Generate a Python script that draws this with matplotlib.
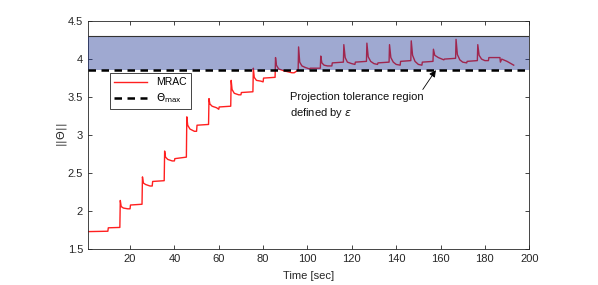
import numpy as np
import matplotlib.pyplot as plt

plt.rcParams['font.family'] = ['Liberation Sans', 'DejaVu Sans']

# MRAC parameter norm
t = [1, 10, 10.2, 15.4, 15.6, 16, 17, 19, 20, 20.2, 25.4, 25.6, 26, 27, 29, 30, 30.2,
     35.4, 35.6, 36, 37, 39, 40, 40.2, 45.4, 45.6, 46, 47, 49, 50, 50.2, 55.4, 55.6,
     56, 57, 59, 60, 60.2, 65.4, 65.6, 66, 67, 69, 70, 70.2, 75.4, 75.6, 76, 77, 79,
     80, 80.2, 85.4, 85.6, 86, 87, 89, 90, 90.2, 93, 94, 95.8, 96, 96.5, 97.5, 99,
     101, 101.2, 105.8, 106, 106.5, 107.5, 109, 111, 111.2, 116.2, 116.4, 117, 118,
     120, 121.4, 121.6, 126.6, 126.8, 127.4, 128.5, 130, 131.6, 131.8, 136.8, 137,
     137.6, 138.7, 140, 141.8, 142, 146.6, 146.8, 147.4, 148.5, 150, 151.6, 151.8,
     156.6, 156.8, 157.4, 159, 161.5, 161.7, 166.8, 167, 167.6, 168.7, 170, 171.8,
     172, 176.6, 176.8, 177.4, 178.5, 180, 181.6, 181.8, 186.8, 187, 187.6, 190, 193]
theta = [1.73, 1.735, 1.78, 1.785, 2.14, 2.06, 2.04, 2.03, 2.03, 2.08, 2.09, 2.45,
         2.37, 2.35, 2.33, 2.33, 2.39, 2.40, 2.79, 2.71, 2.68, 2.66, 2.66, 2.69, 2.71,
         3.24, 3.13, 3.08, 3.05, 3.05, 3.13, 3.14, 3.48, 3.41, 3.38, 3.36, 3.34, 3.37,
         3.38, 3.72, 3.60, 3.55, 3.53, 3.53, 3.56, 3.57, 3.88, 3.76, 3.72, 3.71, 3.70,
         3.75, 3.76, 4.02, 3.92, 3.87, 3.85, 3.84, 3.84, 3.82, 3.82, 3.855, 4.16, 3.96,
         3.91, 3.89, 3.87, 3.88, 3.88, 4.04, 3.95, 3.92, 3.91, 3.91, 3.95, 3.96, 4.19,
         4.02, 3.96, 3.94, 3.93, 3.96, 3.97, 4.21, 4.03, 3.97, 3.94, 3.93, 3.95, 3.96,
         4.19, 4.02, 3.96, 3.93, 3.92, 3.97, 3.98, 4.24, 4.05, 3.97, 3.93, 3.92, 3.96,
         3.97, 4.13, 4.05, 4.02, 3.99, 4.00, 4.01, 4.26, 4.06, 3.99, 3.96, 3.95, 3.97,
         3.98, 4.19, 4.05, 4.00, 3.98, 3.98, 4.02, 4.02, 3.96, 4.00, 3.97, 3.92]

theta_max = 3.85
band_top = 4.3
xlim = (1, 200)

fig = plt.figure(figsize=(5.98, 2.85), dpi=100)
ax = fig.add_axes([0.147, 0.126, 0.738, 0.8])

ax.plot(t, theta, color='#ff2020', lw=1.0, label='MRAC', zorder=2)
ax.fill_between(xlim, theta_max, band_top, facecolor=(0.09, 0.19, 0.57), alpha=0.41,
                lw=0, zorder=3)
ax.plot(xlim, [band_top, band_top], color='#333333', lw=0.8, zorder=4)
ax.plot(xlim, [theta_max, theta_max], 'k--', lw=1.8, dashes=(3, 2.2),
        label=r'$\Theta_{\mathrm{max}}$', zorder=5)

ax.text(92.3, 3.38, 'Projection tolerance region\ndefined by $\\epsilon$', fontsize=8,
        color='#111111', va='center', linespacing=1.45)
ax.annotate('', xy=(157.9, 3.855), xytext=(152, 3.60),
            arrowprops=dict(arrowstyle='-|>', color='k', lw=0.6, mutation_scale=10,
                            shrinkA=0, shrinkB=0))

ax.set_xlim(*xlim)
ax.set_ylim(1.5, 4.5)
ax.set_xticks(np.arange(20, 201, 20))
ax.set_yticks(np.arange(1.5, 4.51, 0.5))
ax.set_yticklabels(['1.5', '2', '2.5', '3', '3.5', '4', '4.5'])
ax.tick_params(direction='in', length=3, width=0.6, labelsize=8, colors='#262626',
               top=True, right=True)
for s in ax.spines.values():
    s.set_color('#262626')
    s.set_linewidth(0.6)

ax.set_xlabel('Time [sec]', fontsize=8, color='#262626', labelpad=5)
ax.set_ylabel(r'$||\Theta||$', fontsize=8, color='#262626', labelpad=-1)

leg = ax.legend(loc='upper left', bbox_to_anchor=(0.05, 0.772), fontsize=7.5,
                fancybox=False, framealpha=1, edgecolor='#262626', borderaxespad=0,
                handlelength=3.2, borderpad=0.4, labelspacing=0.4)
leg.get_frame().set_linewidth(0.6)

fig.savefig('out.png', dpi=100)
